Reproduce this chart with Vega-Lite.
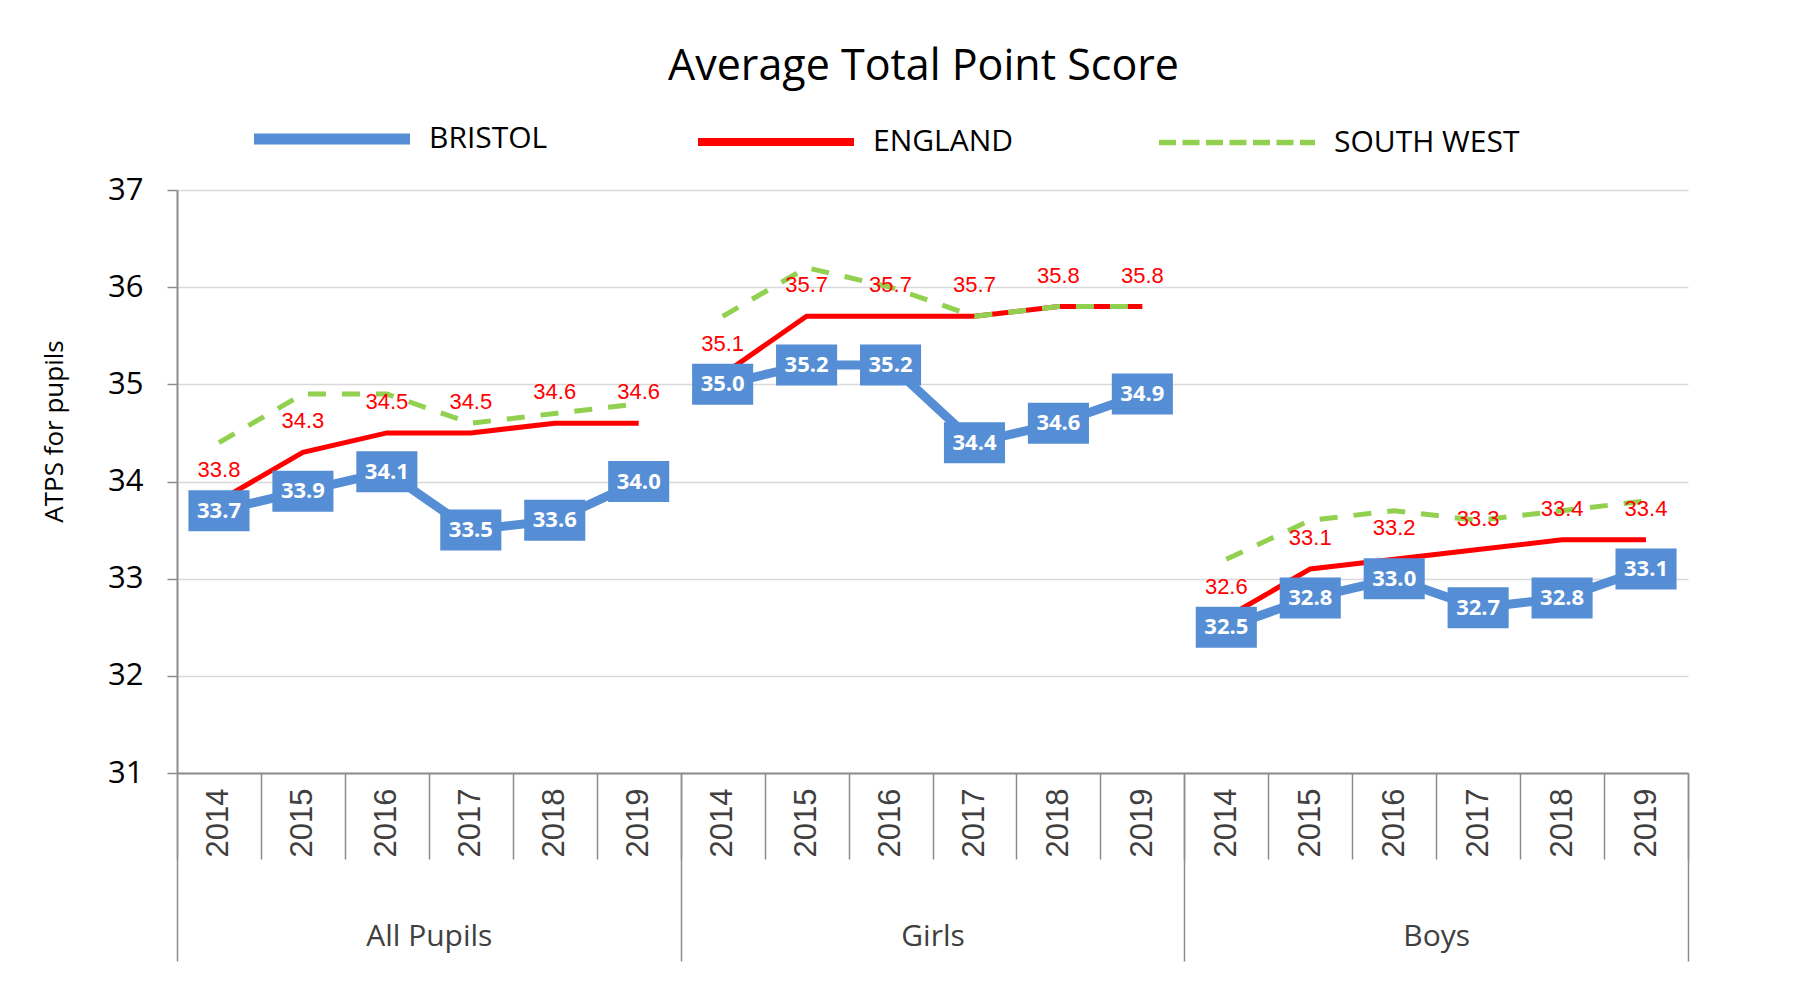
{
  "$schema": "https://vega.github.io/schema/vega-lite/v6.json",
  "width": 1511,
  "height": 583,
  "autosize": {"type": "none"},
  "padding": {"left": 177, "top": 190, "right": 127, "bottom": 231},
  "background": "white",
  "config": {
    "view": {"stroke": null},
    "font": "Open Sans"
  },
  "title": {
    "text": "Average Total Point Score",
    "font": "Open Sans",
    "fontSize": 43,
    "fontWeight": "normal",
    "color": "#000000",
    "anchor": "middle",
    "dx": -9,
    "offset": -31
  },
  "datasets": {
    "scores": [
      {"grp": "All Pupils", "year": "2014", "key": "All Pupils 2014", "series": "BRISTOL", "value": 33.7},
      {"grp": "All Pupils", "year": "2015", "key": "All Pupils 2015", "series": "BRISTOL", "value": 33.9},
      {"grp": "All Pupils", "year": "2016", "key": "All Pupils 2016", "series": "BRISTOL", "value": 34.1},
      {"grp": "All Pupils", "year": "2017", "key": "All Pupils 2017", "series": "BRISTOL", "value": 33.5},
      {"grp": "All Pupils", "year": "2018", "key": "All Pupils 2018", "series": "BRISTOL", "value": 33.6},
      {"grp": "All Pupils", "year": "2019", "key": "All Pupils 2019", "series": "BRISTOL", "value": 34.0},
      {"grp": "Girls", "year": "2014", "key": "Girls 2014", "series": "BRISTOL", "value": 35.0},
      {"grp": "Girls", "year": "2015", "key": "Girls 2015", "series": "BRISTOL", "value": 35.2},
      {"grp": "Girls", "year": "2016", "key": "Girls 2016", "series": "BRISTOL", "value": 35.2},
      {"grp": "Girls", "year": "2017", "key": "Girls 2017", "series": "BRISTOL", "value": 34.4},
      {"grp": "Girls", "year": "2018", "key": "Girls 2018", "series": "BRISTOL", "value": 34.6},
      {"grp": "Girls", "year": "2019", "key": "Girls 2019", "series": "BRISTOL", "value": 34.9},
      {"grp": "Boys", "year": "2014", "key": "Boys 2014", "series": "BRISTOL", "value": 32.5},
      {"grp": "Boys", "year": "2015", "key": "Boys 2015", "series": "BRISTOL", "value": 32.8},
      {"grp": "Boys", "year": "2016", "key": "Boys 2016", "series": "BRISTOL", "value": 33.0},
      {"grp": "Boys", "year": "2017", "key": "Boys 2017", "series": "BRISTOL", "value": 32.7},
      {"grp": "Boys", "year": "2018", "key": "Boys 2018", "series": "BRISTOL", "value": 32.8},
      {"grp": "Boys", "year": "2019", "key": "Boys 2019", "series": "BRISTOL", "value": 33.1},
      {"grp": "All Pupils", "year": "2014", "key": "All Pupils 2014", "series": "ENGLAND", "value": 33.8},
      {"grp": "All Pupils", "year": "2015", "key": "All Pupils 2015", "series": "ENGLAND", "value": 34.3},
      {"grp": "All Pupils", "year": "2016", "key": "All Pupils 2016", "series": "ENGLAND", "value": 34.5},
      {"grp": "All Pupils", "year": "2017", "key": "All Pupils 2017", "series": "ENGLAND", "value": 34.5},
      {"grp": "All Pupils", "year": "2018", "key": "All Pupils 2018", "series": "ENGLAND", "value": 34.6},
      {"grp": "All Pupils", "year": "2019", "key": "All Pupils 2019", "series": "ENGLAND", "value": 34.6},
      {"grp": "Girls", "year": "2014", "key": "Girls 2014", "series": "ENGLAND", "value": 35.1},
      {"grp": "Girls", "year": "2015", "key": "Girls 2015", "series": "ENGLAND", "value": 35.7},
      {"grp": "Girls", "year": "2016", "key": "Girls 2016", "series": "ENGLAND", "value": 35.7},
      {"grp": "Girls", "year": "2017", "key": "Girls 2017", "series": "ENGLAND", "value": 35.7},
      {"grp": "Girls", "year": "2018", "key": "Girls 2018", "series": "ENGLAND", "value": 35.8},
      {"grp": "Girls", "year": "2019", "key": "Girls 2019", "series": "ENGLAND", "value": 35.8},
      {"grp": "Boys", "year": "2014", "key": "Boys 2014", "series": "ENGLAND", "value": 32.6},
      {"grp": "Boys", "year": "2015", "key": "Boys 2015", "series": "ENGLAND", "value": 33.1},
      {"grp": "Boys", "year": "2016", "key": "Boys 2016", "series": "ENGLAND", "value": 33.2},
      {"grp": "Boys", "year": "2017", "key": "Boys 2017", "series": "ENGLAND", "value": 33.3},
      {"grp": "Boys", "year": "2018", "key": "Boys 2018", "series": "ENGLAND", "value": 33.4},
      {"grp": "Boys", "year": "2019", "key": "Boys 2019", "series": "ENGLAND", "value": 33.4},
      {"grp": "All Pupils", "year": "2014", "key": "All Pupils 2014", "series": "SOUTH WEST", "value": 34.4},
      {"grp": "All Pupils", "year": "2015", "key": "All Pupils 2015", "series": "SOUTH WEST", "value": 34.9},
      {"grp": "All Pupils", "year": "2016", "key": "All Pupils 2016", "series": "SOUTH WEST", "value": 34.9},
      {"grp": "All Pupils", "year": "2017", "key": "All Pupils 2017", "series": "SOUTH WEST", "value": 34.6},
      {"grp": "All Pupils", "year": "2018", "key": "All Pupils 2018", "series": "SOUTH WEST", "value": 34.7},
      {"grp": "All Pupils", "year": "2019", "key": "All Pupils 2019", "series": "SOUTH WEST", "value": 34.8},
      {"grp": "Girls", "year": "2014", "key": "Girls 2014", "series": "SOUTH WEST", "value": 35.7},
      {"grp": "Girls", "year": "2015", "key": "Girls 2015", "series": "SOUTH WEST", "value": 36.2},
      {"grp": "Girls", "year": "2016", "key": "Girls 2016", "series": "SOUTH WEST", "value": 36.0},
      {"grp": "Girls", "year": "2017", "key": "Girls 2017", "series": "SOUTH WEST", "value": 35.7},
      {"grp": "Girls", "year": "2018", "key": "Girls 2018", "series": "SOUTH WEST", "value": 35.8},
      {"grp": "Girls", "year": "2019", "key": "Girls 2019", "series": "SOUTH WEST", "value": 35.8},
      {"grp": "Boys", "year": "2014", "key": "Boys 2014", "series": "SOUTH WEST", "value": 33.2},
      {"grp": "Boys", "year": "2015", "key": "Boys 2015", "series": "SOUTH WEST", "value": 33.6},
      {"grp": "Boys", "year": "2016", "key": "Boys 2016", "series": "SOUTH WEST", "value": 33.7},
      {"grp": "Boys", "year": "2017", "key": "Boys 2017", "series": "SOUTH WEST", "value": 33.6},
      {"grp": "Boys", "year": "2018", "key": "Boys 2018", "series": "SOUTH WEST", "value": 33.7},
      {"grp": "Boys", "year": "2019", "key": "Boys 2019", "series": "SOUTH WEST", "value": 33.8}
    ]
  },
  "data": {"name": "scores"},
  "resolve": {"scale": {"x": "independent"}, "axis": {"x": "independent"}},
  "layer": [
    {
      "encoding": {
        "x": {
          "field": "key",
          "type": "nominal",
          "sort": null,
          "scale": {"type": "band", "paddingInner": 0, "paddingOuter": 0},
          "axis": {
            "orient": "bottom",
            "title": null,
            "tickBand": "extent",
            "tickSize": 86,
            "tickColor": "#8c8c8c",
            "tickWidth": 1.5,
            "domainColor": "#8c8c8c",
            "domainWidth": 2,
            "labelExpr": "slice(datum.label, -4)",
            "labelAngle": 270,
            "labelAlign": "right",
            "labelBaseline": "middle",
            "labelPadding": -71,
            "labelFont": "Liberation Sans",
            "labelFontSize": 31,
            "labelColor": "#404040",
            "grid": false
          }
        },
        "y": {
          "field": "value",
          "type": "quantitative",
          "scale": {"domain": [31, 37], "nice": false, "zero": false},
          "axis": {
            "title": "ATPS for pupils",
            "titleFont": "Open Sans",
            "titleFontSize": 26,
            "titleFontWeight": "normal",
            "titleColor": "#000000",
            "titlePadding": 40,
            "titleY": 241,
            "values": [31, 32, 33, 34, 35, 36, 37],
            "format": "d",
            "labelFont": "Open Sans",
            "labelFontSize": 31,
            "labelColor": "#000000",
            "labelPadding": 24,
            "tickSize": 10,
            "tickColor": "#8c8c8c",
            "tickWidth": 1.5,
            "domainColor": "#8c8c8c",
            "domainWidth": 2,
            "grid": true,
            "gridColor": "#d9d9d9",
            "gridWidth": 1.5
          }
        }
      },
      "layer": [
        {
          "transform": [{"filter": "datum.series === 'ENGLAND'"}],
          "mark": {"type": "line", "strokeWidth": 5},
          "encoding": {
            "color": {"field": "series", "type": "nominal",
              "scale": {"domain": ["BRISTOL", "ENGLAND", "SOUTH WEST"], "range": ["#558ED5", "#FF0000", "#92D050"]},
              "legend": {
                "title": null,
                "orient": "none",
                "legendX": 74,
                "legendY": -132,
                "direction": "horizontal",
                "columns": 3,
                "padding": 0,
                "symbolType": "stroke",
                "symbolSize": 24336,
                "symbolStrokeWidth": 6,
                "labelFont": "Open Sans",
                "labelFontSize": 30,
                "labelColor": "#000000",
                "labelOffset": 16,
                "columnPadding": 134,
                "labelLimit": 400,
                "encode": {
                  "symbols": {
                    "update": {
                      "strokeWidth": {"signal": "(datum.value === 'BRISTOL' ? 11 : (datum.value === 'ENGLAND' ? 8 : 5.5))"},
                      "strokeDash": {"signal": "(datum.value === 'SOUTH WEST' ? [17, 6.5] : [1, 0])"}
                    }
                  }
                }
              }
            },
            "detail": {"field": "grp"}
          }
        },
        {
          "transform": [{"filter": "datum.series === 'SOUTH WEST'"}],
          "mark": {"type": "line", "strokeWidth": 5, "strokeDash": [18, 16]},
          "encoding": {
            "color": {"field": "series", "type": "nominal"},
            "detail": {"field": "grp"}
          }
        },
        {
          "transform": [{"filter": "datum.series === 'BRISTOL'"}],
          "mark": {"type": "line", "strokeWidth": 9},
          "encoding": {
            "color": {"field": "series", "type": "nominal"},
            "detail": {"field": "grp"}
          }
        },
        {
          "transform": [{"filter": "datum.series === 'BRISTOL'"}],
          "mark": {"type": "point", "shape": "M-1.49,-1L1.49,-1L1.49,1L-1.49,1Z", "size": 1681, "filled": true, "opacity": 1, "color": "#558ED5", "strokeWidth": 0}
        },
        {
          "transform": [{"filter": "datum.series === 'BRISTOL'"}],
          "mark": {"type": "text", "font": "Open Sans", "fontSize": 22, "fontWeight": "bold", "color": "#FFFFFF", "baseline": "middle", "align": "center"},
          "encoding": {"text": {"field": "value", "type": "quantitative", "format": ".1f"}}
        },
        {
          "transform": [{"filter": "datum.series === 'ENGLAND'"}],
          "mark": {"type": "text", "font": "Liberation Sans", "fontSize": 22, "color": "#FF0000", "baseline": "middle", "align": "center", "dy": -31},
          "encoding": {"text": {"field": "value", "type": "quantitative", "format": ".1f"}}
        }
      ]
    },
    {
      "mark": {"type": "point", "opacity": 0},
      "encoding": {
        "x": {
          "field": "grp",
          "type": "nominal",
          "sort": null,
          "scale": {"type": "band", "paddingInner": 0, "paddingOuter": 0},
          "axis": {
            "orient": "bottom",
            "title": null,
            "domain": false,
            "tickBand": "extent",
            "tickSize": 188,
            "tickColor": "#8c8c8c",
            "tickWidth": 1.5,
            "labelAngle": 0,
            "labelBaseline": "middle",
            "labelPadding": -25,
            "labelFont": "Open Sans",
            "labelFontSize": 30,
            "labelColor": "#404040",
            "grid": false
          }
        }
      }
    }
  ]
}
